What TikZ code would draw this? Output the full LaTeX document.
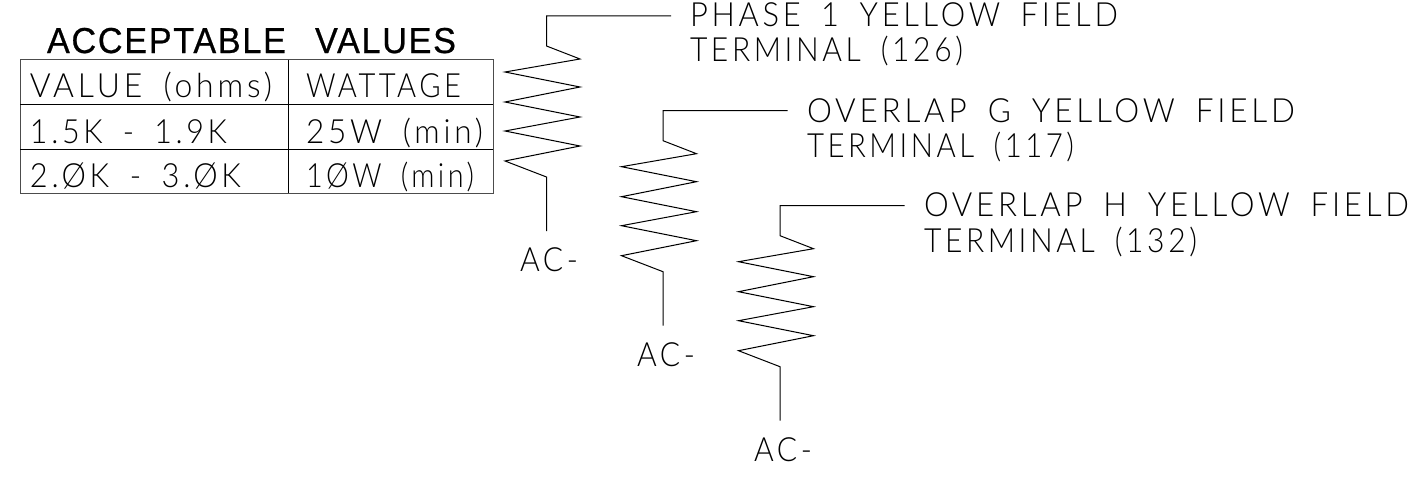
\documentclass[tikz,border=0pt]{standalone}
\usepackage{fontspec}
\usepackage{graphicx}
\newfontfamily\cadthin{Lato Light}[LetterSpace=12,WordSpace=1.7]
\newfontfamily\cadhead{Liberation Sans}[LetterSpace=5,WordSpace=2.6,FakeBold=0.6]
\newsavebox\cadbox
% \fitw{font}{yscale}{width}{text}: text in the given font, stretched to the measured width
\newcommand\fitw[4]{\sbox\cadbox{#1#4}\pgfmathsetmacro\cadxs{#3/(\wd\cadbox/1pt)}\scalebox{\cadxs}[#2]{\usebox\cadbox}}
\newcommand\cad[2]{\fitw{\fontsize{29}{29}\selectfont\cadthin}{1.15}{#1}{#2}}
\newcommand\cadtitle[2]{\fitw{\fontsize{34}{34}\selectfont\cadhead}{1.06}{#1}{#2}}
\tikzset{
  wire/.style={line width=1pt,black,line join=miter},
  rule/.style={line width=1pt,black!70},
  lab/.style={inner sep=0pt,outer sep=0pt,anchor=base west,text=black},
}
% resistor: #1 name, #2 shift x, #3 shift y
\newcommand\resistor[3]{
  \begin{scope}[shift={(#2,#3)}]
    \coordinate (#1e) at (124.5,0);
    \coordinate (#1c) at (0,0);
    \coordinate (#1t) at (0,30);
    \coordinate (#1b) at (0,161);
    \coordinate (#1g) at (0,215);
    \draw[wire] (#1e) -- (#1c) -- (#1t) -- (33.5,43) -- (-41.5,56) -- (33.5,71) -- (-41.5,86)
      -- (33.5,101) -- (-41.5,115) -- (33.5,130) -- (-41.5,145) -- (#1b) -- (#1g);
  \end{scope}
}
\begin{document}
\begin{tikzpicture}[x=1pt,y=-1pt]
\useasboundingbox[fill=white] (0,0) rectangle (1410,503);
% table
\coordinate (tl) at (20,60);
\coordinate (br) at (493,193);
\draw[rule] (tl) rectangle (br);
\draw[wire] (288.5,60) -- (288.5,193);
\draw[wire] (20,104) -- (493,104);
\draw[wire] (20,149) -- (493,149);
\node[lab] (title) at (47,53) {\cadtitle{409}{ACCEPTABLE VALUES}};
\node[lab] (h1) at (30,97) {\cad{242}{VALUE (ohms)}};
\node[lab] (h2) at (306,97) {\cad{155}{WATTAGE}};
\node[lab] (a1) at (30,143) {\cad{197}{1.5K - 1.9K}};
\node[lab] (a2) at (306,143) {\cad{177}{25W (min)}};
\node[lab] (b1) at (30,187.5) {\cad{211}{2.ØK - 3.ØK}};
\node[lab] (b2) at (306,187.5) {\cad{168}{1ØW (min)}};
% resistors
\resistor{ra}{546.5}{16}
\resistor{rb}{663}{110.7}
\resistor{rc}{780}{205.7}
\node[lab] (ga) at (520,271.5) {\cad{58}{AC-}};
\node[lab] (gb) at (637,366.5) {\cad{58}{AC-}};
\node[lab] (gc) at (754,461.5) {\cad{58}{AC-}};
% labels
\node[lab] (la1) at (690,27) {\cad{428}{PHASE 1 YELLOW FIELD}};
\node[lab] (la2) at (690,62) {\cad{273}{TERMINAL (126)}};
\node[lab] (lb1) at (807,122) {\cad{488}{OVERLAP G YELLOW FIELD}};
\node[lab] (lb2) at (807,157) {\cad{267}{TERMINAL (117)}};
\node[lab] (lc1) at (924,216) {\cad{485}{OVERLAP H YELLOW FIELD}};
\node[lab] (lc2) at (924,252) {\cad{273}{TERMINAL (132)}};
\end{tikzpicture}
\end{document}
